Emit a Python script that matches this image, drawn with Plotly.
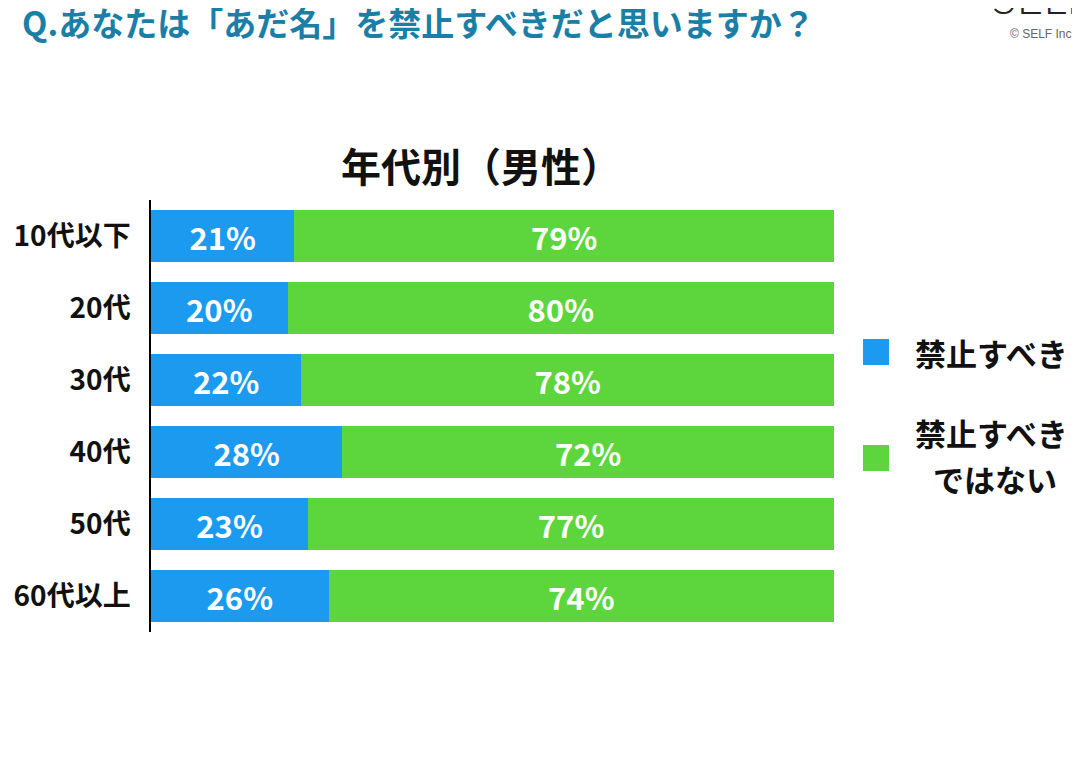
import plotly.graph_objects as go

ages = ["10代以下", "20代", "30代", "40代", "50代", "60代以上"]
ban = [21, 20, 22, 28, 23, 26]
no_ban = [79, 80, 78, 72, 77, 74]
series_names = ["禁止すべき", "禁止すべきではない"]

blue = "#1c9af0"
green = "#5cd63c"
font_jp = "Noto Sans CJK JP"

# plot area in page pixels (the page body adds an 8px offset)
L, R, T, B = 151, 834, 200, 632


def px_x(p):
    return (p - L) / (R - L)


def px_y(p):
    return (B - p) / (B - T)


fig = go.Figure()
for vals, color, name in [(ban, blue, series_names[0]), (no_ban, green, series_names[1])]:
    fig.add_bar(
        y=ages, x=vals, orientation="h", name=name,
        marker=dict(color=color, line_width=0),
        text=[f"{v}%" for v in vals], textposition="inside",
        insidetextanchor="middle",
        textfont=dict(color="white", size=31, family=font_jp, weight="bold"),
    )

fig.update_layout(
    barmode="stack",
    bargap=0.28,
    width=1080, height=765,
    margin=dict(l=L - 8, r=1088 - R, t=T - 8, b=773 - B),
    paper_bgcolor="white", plot_bgcolor="white",
    showlegend=False,
    font=dict(family=font_jp, color="#111111"),
    uniformtext=dict(minsize=10, mode="show"),
)
fig.update_xaxes(
    range=[0, 100], tickvals=[100], showticklabels=False,
    showgrid=True, gridcolor="#bbbbbb", gridwidth=1, zeroline=False,
    automargin=False,
)
fig.update_yaxes(
    categoryorder="array", categoryarray=ages, autorange="reversed",
    showline=True, linecolor="black", linewidth=1.5,
    ticks="", ticklabelstandoff=13, automargin=False,
    tickfont=dict(size=28, color="#111111", family=font_jp, weight="bold"),
)

# chart title
fig.add_annotation(
    text="<b>年代別（男性）</b>", xref="paper", yref="paper",
    x=px_x(481), y=px_y(165), yanchor="middle", showarrow=False,
    font=dict(size=40, color="#111111"),
)

# page heading
fig.add_annotation(
    text="<b>Q.あなたは「あだ名」を禁止すべきだと思いますか？</b>",
    xref="paper", yref="paper", x=px_x(20), y=px_y(22),
    xanchor="left", yanchor="middle", showarrow=False,
    font=dict(size=33, color="#1a7ea6"),
)
fig.add_annotation(
    text="SELF", xref="paper", yref="paper", x=px_x(990), y=px_y(26),
    xanchor="left", yanchor="bottom", showarrow=False,
    font=dict(size=46, color="#222222", family="Lato", weight=300),
)
fig.add_annotation(
    text="© SELF Inc", xref="paper", yref="paper", x=px_x(1008), y=px_y(34),
    xanchor="left", yanchor="middle", showarrow=False,
    font=dict(size=12, color="#666666", family="Liberation Sans"),
)

# legend drawn by hand so the swatches can be large
for color, yc in [(blue, 352), (green, 458)]:
    fig.add_shape(
        type="rect", xref="paper", yref="paper",
        x0=px_x(863), x1=px_x(889),
        y0=px_y(yc + 13), y1=px_y(yc - 13),
        fillcolor=color, line_width=0,
    )
legend_lines = [
    ("禁止すべき", 913, 352, "left"),
    ("禁止すべき", 991, 432, "center"),
    ("ではない", 995, 479, "center"),
]
for txt, lx, ly, anchor in legend_lines:
    fig.add_annotation(
        text=f"<b>{txt}</b>", xref="paper", yref="paper",
        x=px_x(lx), y=px_y(ly), xanchor=anchor, yanchor="middle",
        showarrow=False, font=dict(size=31, color="#111111"),
    )

fig.write_html("out.html")
